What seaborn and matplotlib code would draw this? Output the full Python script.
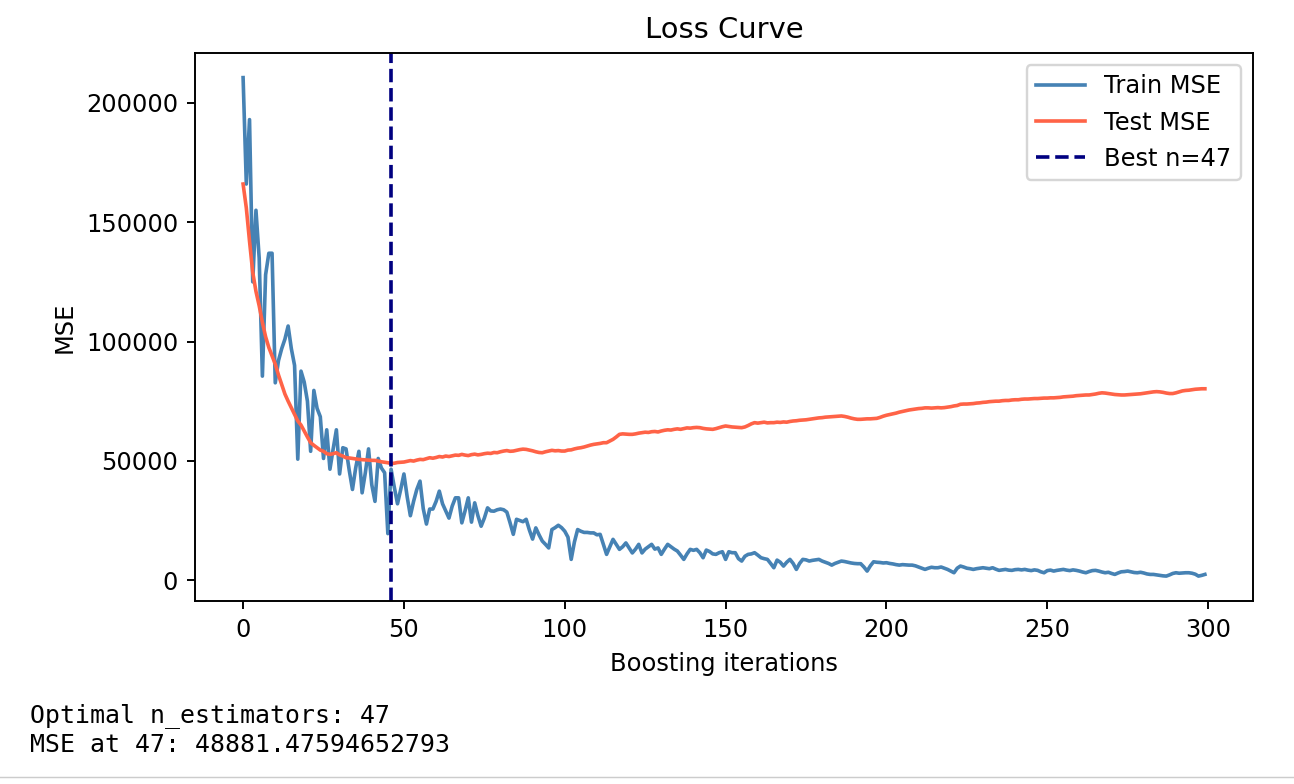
import numpy as np
import matplotlib
matplotlib.use("Agg")
import matplotlib.pyplot as plt
from matplotlib.lines import Line2D
import seaborn as sns

# valores (em milhares)
train_mse_k = [
    210.6, 166, 193, 125, 155, 135, 85.5, 128, 137, 137,
    82.7, 92, 97, 101, 106.5, 97, 90, 50.7, 87.6, 83,
    75, 54, 79.5, 72, 68.5, 51, 63, 46.5, 55, 63,
    44.5, 55.5, 55, 46, 38, 47, 54, 36.6, 45, 55,
    40, 33, 51, 47, 45, 19.5, 46.5, 39, 32, 38,
    44.5, 35, 27, 33, 38, 41.5, 30, 23.5, 29.8, 29.8,
    33, 37.3, 32, 29, 26, 31, 34.5, 34.5, 24, 29,
    34.5, 24.3, 32.4, 27, 22.6, 26, 30.3, 29, 28.9, 29.5,
    29.8, 29.5, 28.5, 24, 19.2, 25.5, 25, 24.5, 25.5, 21,
    17.2, 21.9, 19, 16.4, 15, 13.5, 21.2, 22, 23, 22,
    20.5, 18, 8.7, 16, 21.2, 20.5, 20, 20, 19.8, 19.8,
    19, 19.2, 15, 10.8, 14, 17.1, 15, 12.9, 14, 15.6,
    13.5, 11.4, 13, 15, 11.4, 13, 14, 15, 13, 13.5,
    10.8, 13, 15, 14, 13, 12.2, 10.5, 8.7, 11, 12.9,
    12.5, 12.9, 11.5, 9.4, 12.6, 12, 11, 10.8, 11.5, 11.9,
    8.7, 11.9, 11.5, 11.5, 9, 8, 10, 10.8, 11, 11.5,
    10.5, 9.4, 9, 8.7, 7, 5.2, 8.4, 7.5, 5.9, 7.5,
    8.7, 7, 4.5, 7, 8.7, 8.5, 8, 8.3, 8.5, 8.7,
    8, 7.5, 7, 6.3, 7, 7.5, 8, 7.8, 7.5, 7.2,
    7, 6.9, 6.9, 5.5, 3.8, 6, 7.7, 7.5, 7.4, 7.2,
    7.3, 7, 6.8, 6.5, 6.3, 6.5, 6.4, 6.3, 6.3, 6,
    5.5, 5, 4.5, 5, 5.4, 5.2, 5.2, 5.5, 5, 4.5,
    3.8, 3.1, 5, 5.9, 5.5, 5, 4.8, 4.5, 4.8, 5,
    5.2, 5, 4.8, 5.2, 4.6, 4.1, 4.3, 4.5, 4.2, 4.1,
    4.4, 4.5, 4.3, 4.5, 4.2, 4, 4.3, 4.1, 3.5, 3.1,
    4, 4.2, 3.8, 4.1, 4.3, 4.5, 4.2, 4, 4.3, 4.1,
    3.8, 3.4, 3.1, 3.6, 4, 4.1, 3.8, 3.4, 3.1, 3.3,
    2.8, 2.4, 3, 3.5, 3.6, 3.8, 3.5, 3.2, 3.1, 3.3,
    3, 2.6, 2.4, 2.4, 2.2, 2, 1.8, 1.7, 2.2, 2.8,
    3.1, 2.9, 3, 3.1, 3.1, 2.9, 2.5, 1.7, 2, 2.4,
]

test_mse_k = [
    166, 156, 142, 129, 121, 115, 108, 102, 97.5, 94,
    90.5, 86, 82, 78, 75, 72.2, 69.5, 66.7, 65, 62.5,
    60, 57.6, 56.5, 55.5, 54.5, 54, 53, 52.7, 53, 53.4,
    52.5, 52, 51.3, 51.2, 51, 50.8, 50.6, 50.5, 50.4, 50.3,
    50.2, 50.2, 49.9, 49.6, 49.4, 49.2, 48.881, 49.0, 49.3, 49.4,
    49.5, 49.8, 50.1, 49.9, 50.3, 50.6, 50.5, 50.9, 51.3, 51.1,
    51.4, 51.8, 51.6, 52, 51.8, 52.1, 52.4, 52.3, 52.7, 52.4,
    52.2, 52.6, 52.8, 52.5, 52.7, 53, 53.2, 53.1, 53.5, 53.4,
    53.8, 54.1, 54.3, 54, 54.1, 54.4, 54.7, 54.9, 54.8, 54.5,
    54.2, 53.8, 53.5, 53.4, 53.8, 54.1, 54.4, 54.2, 54.3, 54.1,
    54.1, 54.5, 54.6, 55, 55.3, 55.5, 55.8, 56.2, 56.6, 56.9,
    57.1, 57.3, 57.6, 57.6, 58.3, 59, 60, 61.1, 61.3, 61.2,
    61.1, 61.1, 61.3, 61.6, 61.8, 62, 61.9, 62.2, 62.3, 62.1,
    62.5, 62.8, 63, 62.9, 63.2, 63.4, 63.2, 63.5, 63.8, 63.7,
    63.9, 64, 63.9, 63.6, 63.4, 63.3, 63.2, 63.5, 63.9, 64.3,
    64.6, 64.4, 64.2, 64.1, 64, 63.9, 64.2, 64.8, 65.5, 66,
    65.8, 66, 66.2, 65.9, 66, 66, 66.2, 66.1, 66.3, 66.2,
    66.5, 66.7, 66.8, 67, 67.1, 67.2, 67.4, 67.6, 67.8, 68,
    68.1, 68.3, 68.4, 68.5, 68.6, 68.7, 68.8, 68.6, 68.3, 67.9,
    67.6, 67.4, 67.4, 67.5, 67.6, 67.6, 67.7, 67.8, 68.2, 68.7,
    69.1, 69.4, 69.7, 70, 70.4, 70.7, 71, 71.3, 71.5, 71.7,
    71.9, 72, 72.2, 72.2, 72.1, 72.2, 72.3, 72.2, 72.3, 72.5,
    72.7, 73, 73.2, 73.7, 73.8, 73.8, 73.9, 74, 74.2, 74.3,
    74.5, 74.6, 74.8, 74.9, 75, 75, 75.2, 75.3, 75.3, 75.5,
    75.6, 75.6, 75.8, 75.9, 75.9, 76, 76.1, 76.1, 76.2, 76.3,
    76.3, 76.4, 76.4, 76.5, 76.6, 76.8, 76.9, 77, 77.1, 77.3,
    77.4, 77.5, 77.6, 77.6, 77.8, 78, 78.3, 78.5, 78.4, 78.2,
    78, 77.8, 77.7, 77.6, 77.6, 77.7, 77.8, 77.9, 78, 78.1,
    78.3, 78.5, 78.7, 78.9, 79, 78.9, 78.7, 78.4, 78.2, 78.2,
    78.5, 78.9, 79.3, 79.5, 79.6, 79.8, 80, 80.1, 80.2, 80.2,
]

best_n = 47
best_mse = "48881.47594652793"

iteracoes = np.arange(len(train_mse_k))
train_mse = np.array(train_mse_k) * 1000
test_mse = np.array(test_mse_k) * 1000

# figura no tamanho da captura do notebook
dpi = 174
fig = plt.figure(figsize=(1294 / dpi, 784 / dpi), dpi=dpi)
ax = fig.add_axes([0.1507, 0.2334, 0.8176, 0.6994])

sns.lineplot(x=iteracoes, y=train_mse, color="steelblue", label="Train MSE", ax=ax)
sns.lineplot(x=iteracoes, y=test_mse, color="tomato", label="Test MSE", ax=ax)
ax.axvline(best_n - 1, color="navy", linestyle="--", label=f"Best n={best_n}")

ax.set_title("Loss Curve")
ax.set_xlabel("Boosting iterations")
ax.set_ylabel("MSE")
ax.legend(loc="upper right")

# saída de texto da célula
fig.text(30 / 1294, 1 - 722 / 784, f"Optimal n_estimators: {best_n}",
         family="DejaVu Sans Mono", fontsize=10.3, va="baseline")
fig.text(30 / 1294, 1 - 752 / 784, f"MSE at {best_n}: {best_mse}",
         family="DejaVu Sans Mono", fontsize=10.3, va="baseline")
fig.add_artist(Line2D([0, 1], [1 - 777 / 784, 1 - 777 / 784],
                      transform=fig.transFigure, color="#cccccc", linewidth=0.6))

fig.savefig("out.png", dpi=dpi)
